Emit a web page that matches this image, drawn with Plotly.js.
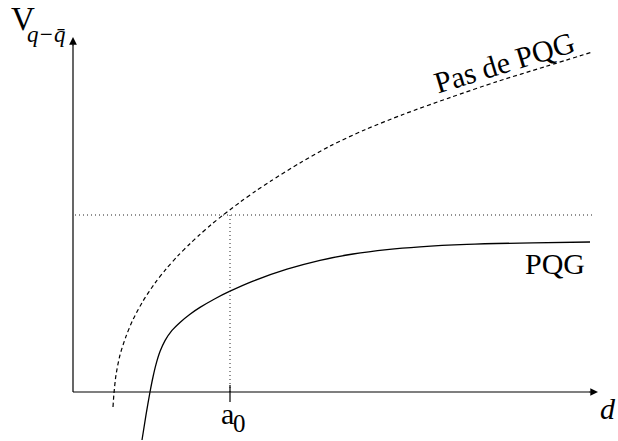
<!DOCTYPE html>
<html>
<head>
<meta charset="utf-8">
<script src="https://cdn.plot.ly/plotly-3.0.1.min.js"></script>
<style>html,body{margin:0;padding:0;background:#fff;}#chart{width:618px;height:441px;}</style>
</head>
<body>
<div id="chart"></div>
<script>
// Distance d and potential V in arbitrary units (no numeric scale in the original)
const noPqgD = [0.40, 0.41, 0.43, 0.47, 0.53, 0.60, 0.70, 0.82, 0.93, 1.05, 1.17, 1.27, 1.38, 1.50, 1.67, 1.82, 1.97, 2.27, 2.57, 2.92, 3.30, 3.77, 4.24, 4.72, 5.20];
const noPqgV = [-0.15, -0.01, 0.17, 0.37, 0.556, 0.724, 0.909, 1.089, 1.229, 1.363, 1.483, 1.576, 1.672, 1.769, 1.898, 2.005, 2.105, 2.291, 2.459, 2.623, 2.775, 2.944, 3.104, 3.253, 3.402];
const pqgD = [0.69, 0.73, 0.77, 0.80, 0.83, 0.87, 0.92, 0.99, 1.07, 1.17, 1.27, 1.42, 1.57, 1.80, 2.14, 2.47, 2.80, 3.14, 3.47, 3.94, 4.60, 5.17];
const pqgV = [-0.48, -0.228, 0.0, 0.15, 0.276, 0.404, 0.514, 0.616, 0.696, 0.778, 0.846, 0.933, 1.008, 1.109, 1.228, 1.317, 1.380, 1.424, 1.452, 1.476, 1.492, 1.500];
const a0 = 1.57;
const vLevel = 1.77;
const levelEnd = 5.19;
const dMax = 5.25;
const vMax = 3.55;

const xr = [-0.73, 5.45];
const yr = [-0.49, 3.92];
const serif = 'Liberation Serif, Times New Roman, serif';

const traces = [
  {x: noPqgD, y: noPqgV, mode: 'lines', line: {color: '#000', width: 1.2, dash: '4px,3px', shape: 'spline', smoothing: 0.8}, hoverinfo: 'skip'},
  {x: pqgD, y: pqgV, mode: 'lines', line: {color: '#000', width: 1.3, shape: 'spline', smoothing: 0.8}, hoverinfo: 'skip'},
  {x: [0.02, levelEnd], y: [vLevel, vLevel], mode: 'lines', line: {color: '#222', width: 1, dash: '1px,3px'}, hoverinfo: 'skip'},
  {x: [a0, a0], y: [vLevel, 0], mode: 'lines', line: {color: '#222', width: 1, dash: '1px,3px'}, hoverinfo: 'skip'},
  {x: [a0, a0], y: [0.07, -0.10], mode: 'lines', line: {color: '#000', width: 1.2}, hoverinfo: 'skip'},
  {x: [0, 0], y: [0, vMax - 0.08], mode: 'lines', line: {color: '#000', width: 1.2}, hoverinfo: 'skip'},
  {x: [0, dMax - 0.08], y: [0, 0], mode: 'lines', line: {color: '#000', width: 1.2}, hoverinfo: 'skip'}
];

function px(x) { return x / 618; }
function py(y) { return 1 - y / 441; }
function label(text, x, y, size, extra) {
  return Object.assign({x: px(x), y: py(y), xref: 'paper', yref: 'paper', xanchor: 'center', yanchor: 'middle',
    showarrow: false, text: text, font: {family: serif, size: size, color: '#000'}}, extra || {});
}

const layout = {
  width: 618, height: 441,
  margin: {l: 0, r: 0, t: 0, b: 0},
  paper_bgcolor: '#fff', plot_bgcolor: '#fff',
  showlegend: false,
  xaxis: {range: xr, visible: false, fixedrange: true},
  yaxis: {range: yr, visible: false, fixedrange: true},
  annotations: [
    {x: 0, y: vMax, ax: 0, ay: vMax - 0.1, xref: 'x', yref: 'y', axref: 'x', ayref: 'y', text: '', showarrow: true, arrowhead: 2, arrowsize: 1.4, arrowwidth: 1.1, arrowcolor: '#000'},
    {x: dMax, y: 0, ax: dMax - 0.1, ay: 0, xref: 'x', yref: 'y', axref: 'x', ayref: 'y', text: '', showarrow: true, arrowhead: 2, arrowsize: 1.4, arrowwidth: 1.1, arrowcolor: '#000'},
    label('V', 23, 19, 33),
    label('<i>q\u2212q\u0304</i>', 46, 34, 23),
    label('a', 227, 413, 30),
    label('0', 239, 423, 25),
    label('<i>d</i>', 608, 408, 30),
    label('PQG', 555, 263, 30),
    label('Pas de PQG', 504, 63, 30, {textangle: -17})
  ]
};

Plotly.newPlot('chart', traces, layout, {staticPlot: true, displayModeBar: false});
</script>
</body>
</html>
